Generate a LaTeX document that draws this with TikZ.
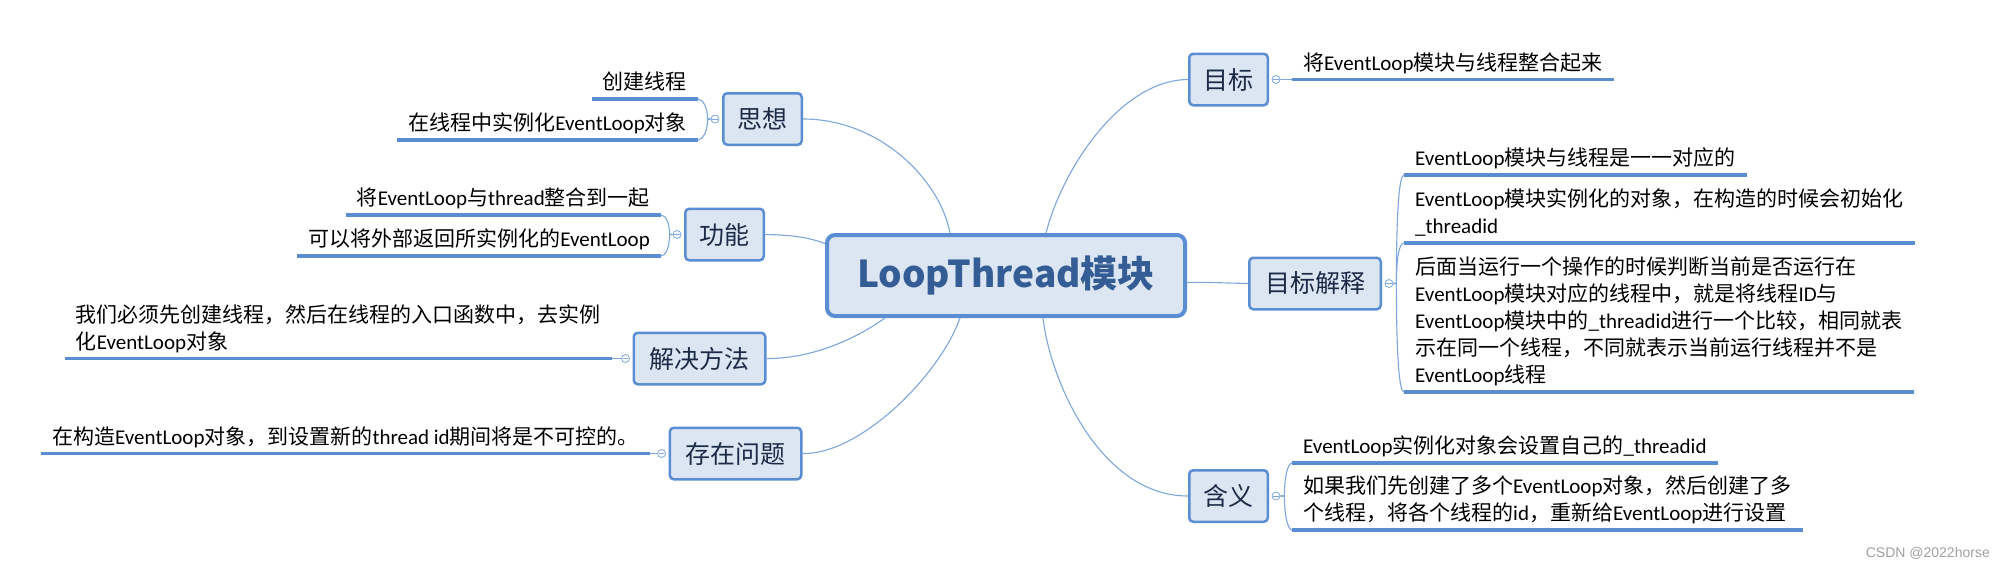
\documentclass[tikz,border=0pt]{standalone}
\usepackage{fontspec}
\setmainfont{Noto Sans CJK SC}
\newfontfamily\wmfont{Liberation Sans}
\newfontfamily\latf{Carlito}
\newcommand\EN[1]{{\latf #1}}
\definecolor{boxfill}{HTML}{DCE6F2}
\definecolor{bordc}{HTML}{5B8DD3}
\definecolor{linec}{HTML}{7DA7DB}
\definecolor{ulc}{HTML}{5B8DD3}
\definecolor{maintext}{HTML}{1C2B47}
\definecolor{centtext}{HTML}{345D96}
\definecolor{wmc}{HTML}{A0A0A0}
\newcommand\lfdepth{\rule[-9pt]{0pt}{9pt}}
\begin{document}
\begin{tikzpicture}[x=1pt,y=-1pt,
  central/.style={draw=bordc, line width=4pt, fill=boxfill, rounded corners=8pt,
    minimum width=358pt, minimum height=81pt, inner sep=0pt,
    font=\fontsize{37pt}{44pt}\selectfont\bfseries, text=centtext},
  mainbox/.style={draw=bordc, line width=2.5pt, fill=boxfill, rounded corners=4pt,
    minimum height=51.5pt, inner xsep=6pt, inner ysep=0pt,
    font=\fontsize{25pt}{30pt}\selectfont, text=maintext},
  narrow/.style={mainbox, minimum width=78.5pt},
  wide/.style={mainbox, minimum width=131.5pt},
  conn/.style={draw=linec, line width=1.1pt},
  ul/.style={draw=ulc, line width=3.5pt},
  tog/.style={circle, draw=linec, line width=0.8pt, fill=white, inner sep=0pt,
    minimum size=8pt,
    path picture={\draw[linec, line width=0.7pt]
      ([xshift=-2.6pt]path picture bounding box.center) --
      ([xshift=2.6pt]path picture bounding box.center);}},
  leafbase/.style={inner xsep=11pt, inner ysep=0pt, text=black,
    font=\fontsize{21pt}{27pt}\selectfont},
  leafR/.style={leafbase, anchor=south west, align=left},
  leafL/.style={leafbase, anchor=south east, align=right},
  leafLL/.style={leafbase, anchor=south east, align=left},
  wm/.style={font=\wmfont\fontsize{14pt}{16pt}\selectfont, text=wmc, inner sep=0pt}
]
\useasboundingbox[fill=white] (0,0) rectangle (2005,568);

% central
\node[central] (C) at (1006,275.5) {LoopThread模块};

% main topics
\node[narrow] (sx) at (762.5,119) {思想};
\node[narrow] (gn) at (724.5,234.5) {功能};
\node[wide]   (jj) at (699.5,358.5) {解决方法};
\node[wide]   (cz) at (735.5,453.5) {存在问题};
\node[narrow] (mb) at (1228.5,79.5) {目标};
\node[wide]   (mj) at (1315,283.5) {目标解释};
\node[narrow] (hy) at (1228.5,496) {含义};

% toggles
\node[tog] (csx) at ([xshift=-7pt]sx.west) {};
\node[tog] (cgn) at ([xshift=-7pt]gn.west) {};
\node[tog] (cjj) at ([xshift=-7pt]jj.west) {};
\node[tog] (ccz) at ([xshift=-7pt]cz.west) {};
\node[tog] (cmb) at ([xshift=7pt]mb.east) {};
\node[tog] (cmj) at ([xshift=7pt]mj.east) {};
\node[tog] (chy) at ([xshift=7pt]hy.east) {};

% leaves
\node[leafL] (sx1) at (698,99) {创建线程\lfdepth};
\node[leafL] (sx2) at (698,140) {在线程中实例化\EN{EventLoop}对象\lfdepth};
\node[leafL] (gn1) at (661,215) {将\EN{EventLoop}与\EN{thread}整合到一起\lfdepth};
\node[leafL] (gn2) at (661,256) {可以将外部返回所实例化的\EN{EventLoop}\lfdepth};
\node[leafLL] (jj1) at (612,358.5) {我们必须先创建线程，然后在线程的入口函数中，去实例\\化\EN{EventLoop}对象\lfdepth};
\node[leafL] (cz1) at (650,453.5) {在构造\EN{EventLoop}对象，到设置新的\EN{thread id}期间将是不可控的。\lfdepth};
\node[leafR] (mb1) at (1292,79.5) {将\EN{EventLoop}模块与线程整合起来\lfdepth};
\node[leafR] (mj1) at (1404,175) {\EN{EventLoop}模块与线程是一一对应的\lfdepth};
\node[leafR] (mj2) at (1404,243) {\EN{EventLoop}模块实例化的对象，在构造的时候会初始化\\\EN{\_threadid}\lfdepth};
\node[leafR] (mj3) at (1404,392) {后面当运行一个操作的时候判断当前是否运行在\\\EN{EventLoop}模块对应的线程中，就是将线程\EN{ID}与\\\EN{EventLoop}模块中的\EN{\_threadid}进行一个比较，相同就表\\示在同一个线程，不同就表示当前运行线程并不是\\\EN{EventLoop}线程\lfdepth};
\node[leafR] (hy1) at (1292,463) {\EN{EventLoop}实例化对象会设置自己的\EN{\_threadid}\lfdepth};
\node[leafR] (hy2) at (1292,530) {如果我们先创建了多个\EN{EventLoop}对象，然后创建了多\\个线程，将各个线程的\EN{id}，重新给\EN{EventLoop}进行设置\lfdepth};

% underlines
\foreach \n in {sx1,sx2,gn1,gn2,jj1,cz1,mb1,mj1,mj2,mj3,hy1,hy2}
  \draw[ul] (\n.south west) -- (\n.south east);

% connectors from central topic
\draw[conn] (sx.east) .. controls (880,119) and (940,180) .. ([xshift=-56pt]C.north);
\draw[conn] (gn.east) .. controls (795,235) and (810,238) .. ([yshift=32pt]C.west);
\draw[conn] (jj.east) .. controls (806,359) and (850,343) .. ([xshift=-121pt]C.south);
\draw[conn] (cz.east) .. controls (860,455) and (940,375) .. ([xshift=-46pt]C.south);
\draw[conn] (mb.west) .. controls (1120,80) and (1062,170) .. ([xshift=40pt]C.north);
\draw[conn] (mj.west) .. controls (1225,283) and (1205,282) .. ([yshift=-7pt]C.east);
\draw[conn] (hy.west) .. controls (1100,496) and (1050,380) .. ([xshift=37pt]C.south);

% brackets / links to leaves
\draw[conn] (csx.west) -- ++(-3,0) .. controls +(0,-11) and +(5,0) .. (sx1.south east);
\draw[conn] (csx.west) -- ++(-3,0) .. controls +(0,12) and +(5,0) .. (sx2.south east);
\draw[conn] (cgn.west) -- ++(-3,0) .. controls +(0,-11) and +(5,0) .. (gn1.south east);
\draw[conn] (cgn.west) -- ++(-3,0) .. controls +(0,12) and +(5,0) .. (gn2.south east);
\draw[conn] (cjj.west) -- (jj1.south east);
\draw[conn] (ccz.west) -- (cz1.south east);
\draw[conn] (cmb.east) -- (mb1.south west);
\draw[conn] (cmj.east) -- ++(3,0) .. controls +(0,-70) and +(-5,0) .. (mj1.south west);
\draw[conn] (cmj.east) -- ++(3,0) .. controls +(0,-25) and +(-5,0) .. (mj2.south west);
\draw[conn] (cmj.east) -- ++(3,0) .. controls +(0,70) and +(-5,0) .. (mj3.south west);
\draw[conn] (chy.east) -- ++(4,0) .. controls +(0,-20) and +(-4,0) .. (hy1.south west);
\draw[conn] (chy.east) -- ++(4,0) .. controls +(0,20) and +(-4,0) .. (hy2.south west);

% watermark
\node[wm, anchor=east] (wmk) at (1990,553) {CSDN @2022horse};
\end{tikzpicture}
\end{document}
